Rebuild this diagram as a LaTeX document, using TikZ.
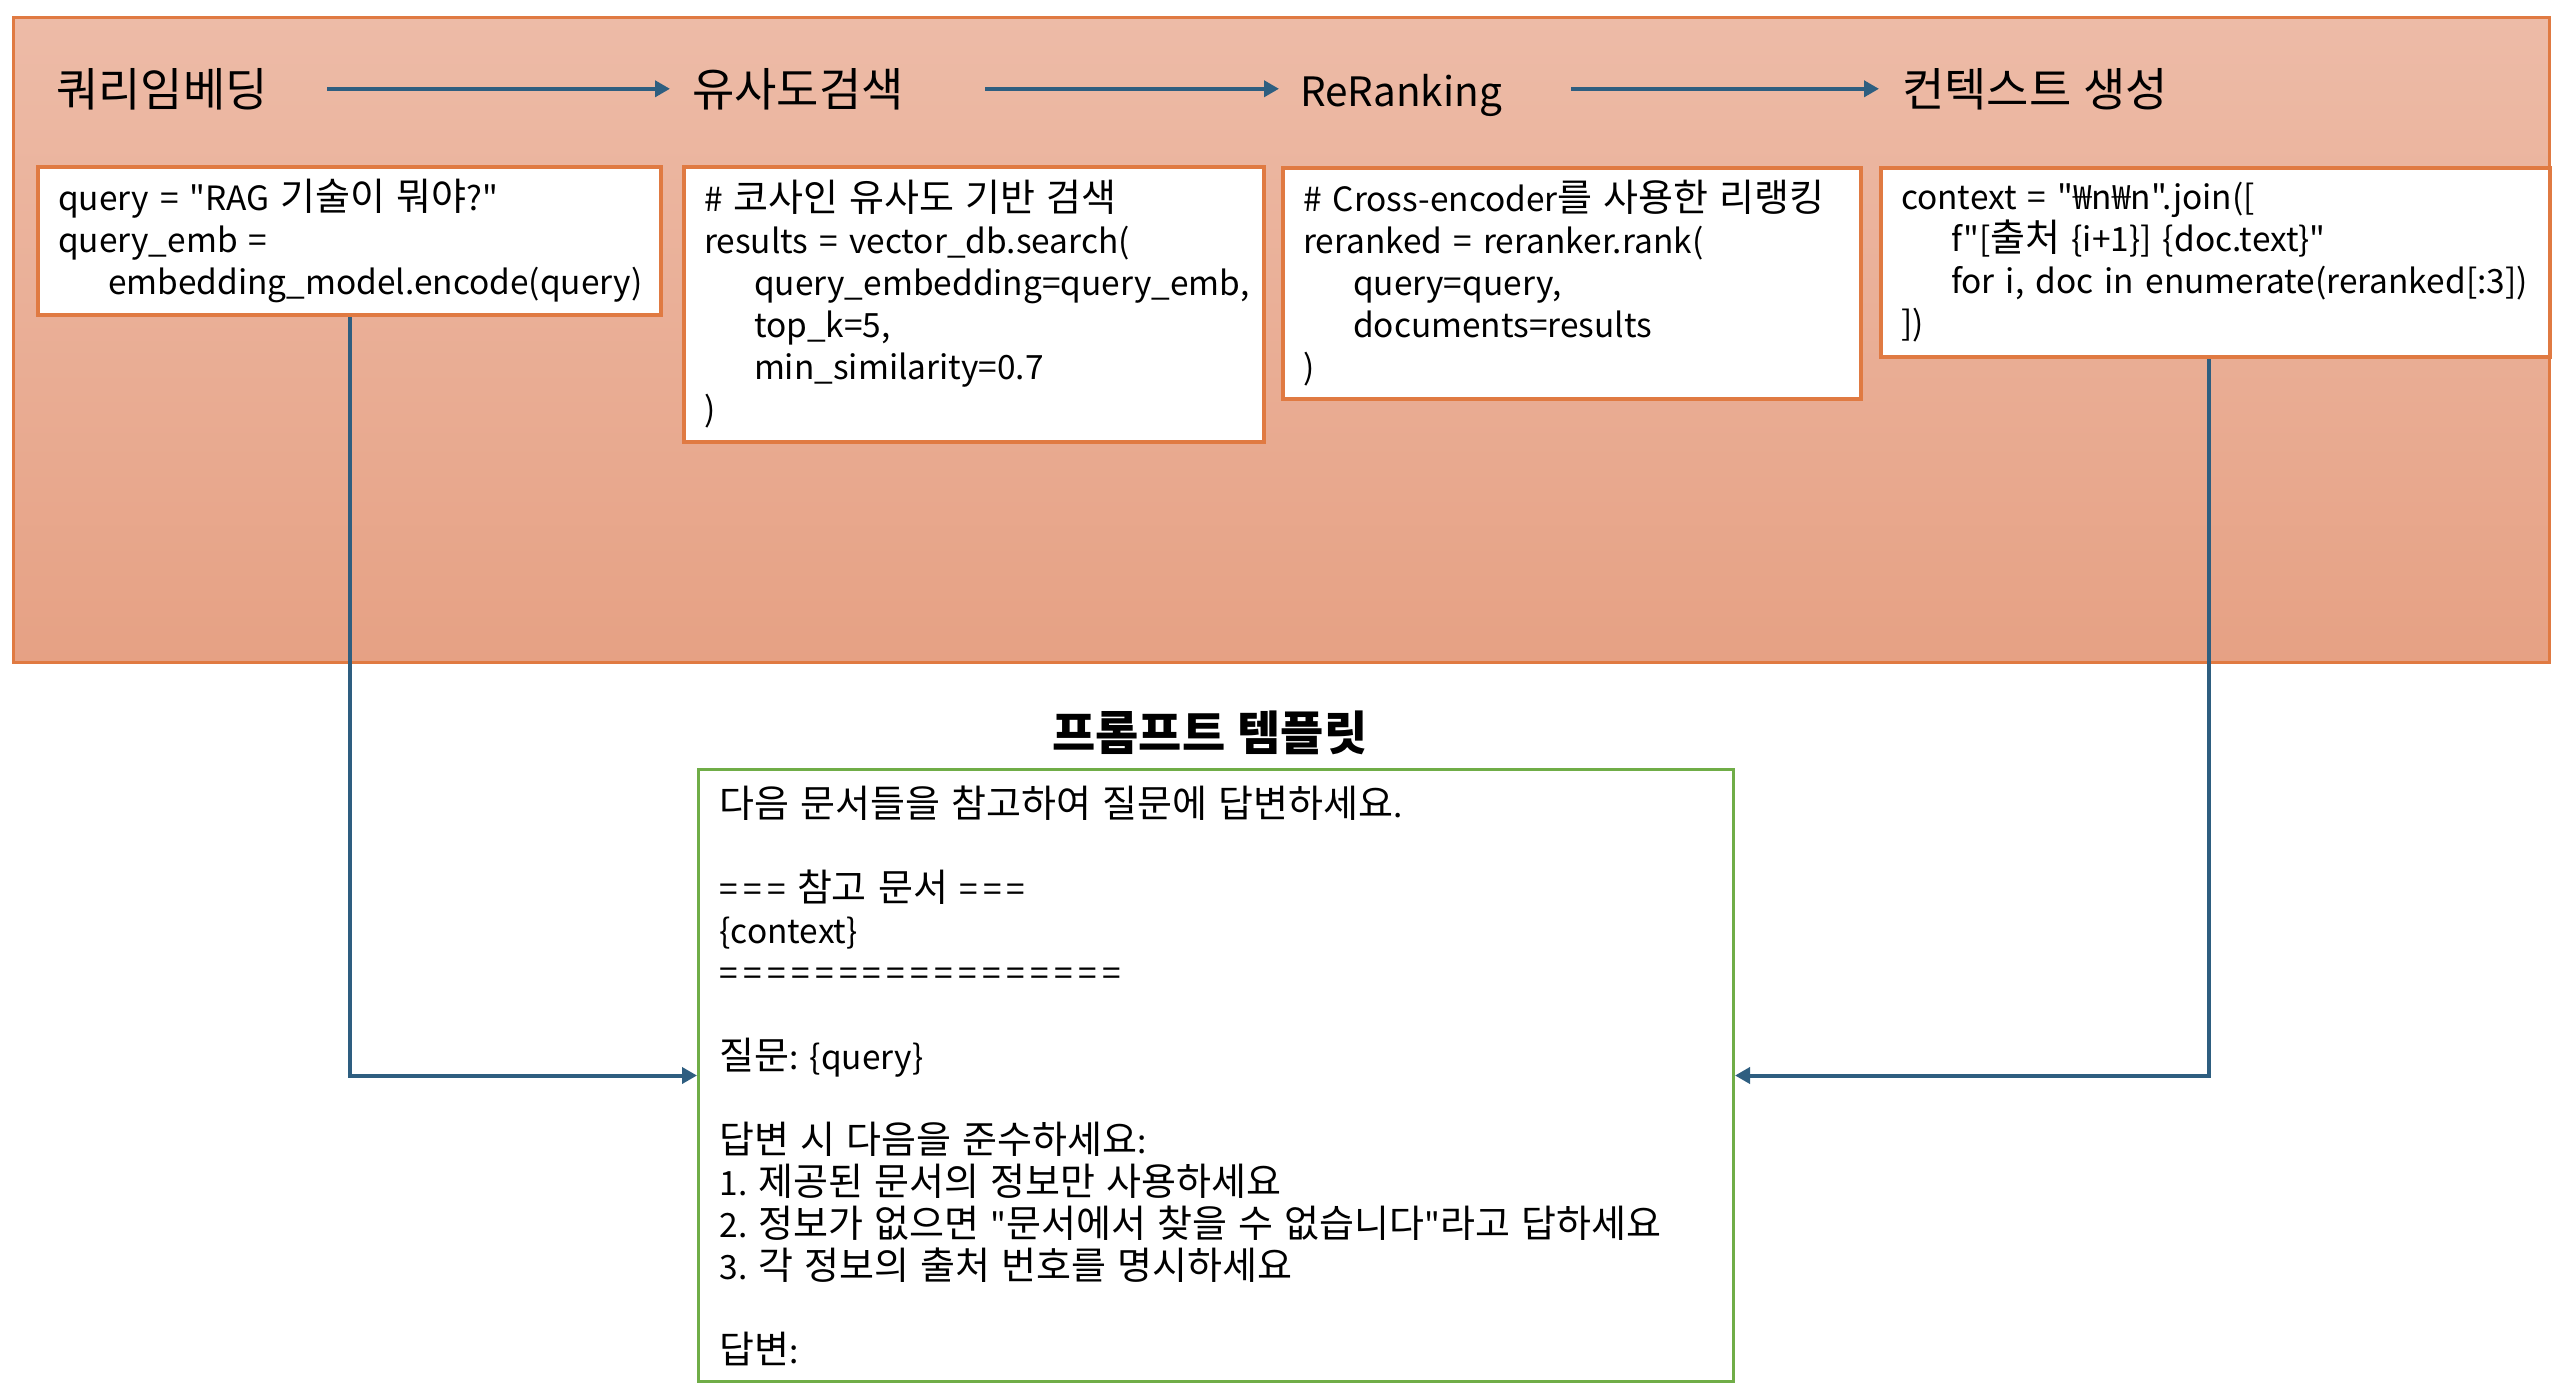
\documentclass[tikz,border=0pt]{standalone}
\usepackage{fontspec}
\setmainfont{Noto Sans CJK KR}[Scale=0.88,WordSpace=1.3,Ligatures=TeXOff]
\newfontfamily\kofont{Noto Sans CJK KR}[Ligatures=TeXOff]
\usetikzlibrary{arrows.meta}

% hangul in full size, latin a bit smaller
\XeTeXinterchartokenstate=1
\newXeTeXintercharclass\koclass
\newcount\kocnt
\kocnt="AC00
\loop
  \XeTeXcharclass\kocnt=\koclass
  \ifnum\kocnt<"D7A3 \advance\kocnt by 1
\repeat
\XeTeXinterchartoks 0 \koclass = {\kofont}
\XeTeXinterchartoks 4095 \koclass = {\kofont}
\XeTeXinterchartoks \koclass 0 = {\rmfamily}
\XeTeXinterchartoks \koclass 4095 = {\rmfamily}

\frenchspacing
\hyphenpenalty=10000
\exhyphenpenalty=10000

\definecolor{panelTop}{RGB}{237,187,167}
\definecolor{panelBottom}{RGB}{230,161,132}
\definecolor{edgeOrange}{RGB}{224,122,66}
\definecolor{flowBlue}{RGB}{46,94,128}
\definecolor{tplGreen}{RGB}{112,173,71}

\newcommand{\ind}{\hspace*{50pt}}
\newcommand{\wideq}[1]{{\addfontfeature{LetterSpace=16}#1}}

\begin{document}
\begin{tikzpicture}[x=1pt,y=-1pt,
    every node/.style={inner sep=0pt},
    head/.style={anchor=base west,font=\fontsize{46}{52}\selectfont},
    codebox/.style={draw=edgeOrange,line width=4pt,fill=white,anchor=north west,
        align=left,inner xsep=20pt,font=\fontsize{38}{42}\selectfont},
    flow/.style={draw=flowBlue,line width=4pt,-{Triangle[length=15pt,width=16pt]}}]
    \useasboundingbox (0,0) rectangle (2562,1400);

    % pipeline panel
    \node [anchor=north west,draw=edgeOrange,line width=3pt,top color=panelTop,bottom color=panelBottom,
        minimum width=2536pt,minimum height=645pt] (panel) at (12,16) {};

    % stage titles
    \node [head] (hEmb) at (56,106) {쿼리임베딩};
    \node [head] (hSearch) at (692,106) {유사도검색};
    \node [head] (hRerank) at (1300,106) {ReRanking};
    \node [head] (hContext) at (1902,106) {컨텍스트 생성};

    \draw [flow,shorten <=59pt,shorten >=22pt] (hEmb.east) -- (hEmb.east -| hSearch.west);
    \draw [flow,shorten <=81pt,shorten >=21pt] (hSearch.east) -- (hSearch.east -| hRerank.west);
    \draw [flow,shorten <=69pt,shorten >=23pt] (hRerank.east |- hEmb.east) -- (hEmb.east -| hContext.west);

    % code boxes
    \node [codebox,text width=583pt,minimum height=148pt] (cEmb) at (36,165)
        {query = "RAG 기술이 뭐야?"\\
         query\_emb =\\
         \ind embedding\_model.encode(query)};
    \node [codebox,text width=540pt,minimum height=275pt] (cSearch) at (682,165)
        {\# 코사인 유사도 기반 검색\\
         results = vector\_db.search(\\
         \ind query\_embedding=query\_emb,\\
         \ind top\_k=5,\\
         \ind min\_similarity=0.7\\
         )};
    \node [codebox,text width=538pt,minimum height=231pt] (cRerank) at (1281,166)
        {\# Cross-encoder를 사용한 리랭킹\\
         reranked = reranker.rank(\\
         \ind query=query,\\
         \ind documents=results\\
         )};
    \node [codebox,text width=629pt,minimum height=189pt] (cContext) at (1879,166)
        {context = "₩n₩n".join([\\
         \ind f"[출처 \{i+1\}] \{doc.text\}"\\
         \ind \mbox{for i, doc in enumerate(reranked[:3])}\\
         ])};

    % prompt template
    \node [font=\bfseries\fontsize{47}{52}\selectfont] (tplTitle) at (1210,733) {프롬프트 템플릿};
    \node [draw=tplGreen,line width=3pt,fill=white,anchor=north west,align=left,inner xsep=21pt,
        text width=993pt,minimum height=612pt,font=\fontsize{38}{42}\selectfont] (prompt) at (697,768)
        {다음 문서들을 참고하여 질문에 답변하세요.\\
         ~\\
         \wideq{===} 참고 문서 \wideq{===}\\
         \{context\}\\
         \wideq{=================}\\
         ~\\
         질문: \{query\}\\
         ~\\
         답변 시 다음을 준수하세요:\\
         1. 제공된 문서의 정보만 사용하세요\\
         2. 정보가 없으면 "문서에서 찾을 수 없습니다"라고 답하세요\\
         3. 각 정보의 출처 번호를 명시하세요\\
         ~\\
         답변:};

    \draw [flow] (cEmb.south) |- (prompt.west);
    \draw [flow] ([xshift=-7pt]cContext.south) |- (prompt.east);
\end{tikzpicture}
\end{document}
